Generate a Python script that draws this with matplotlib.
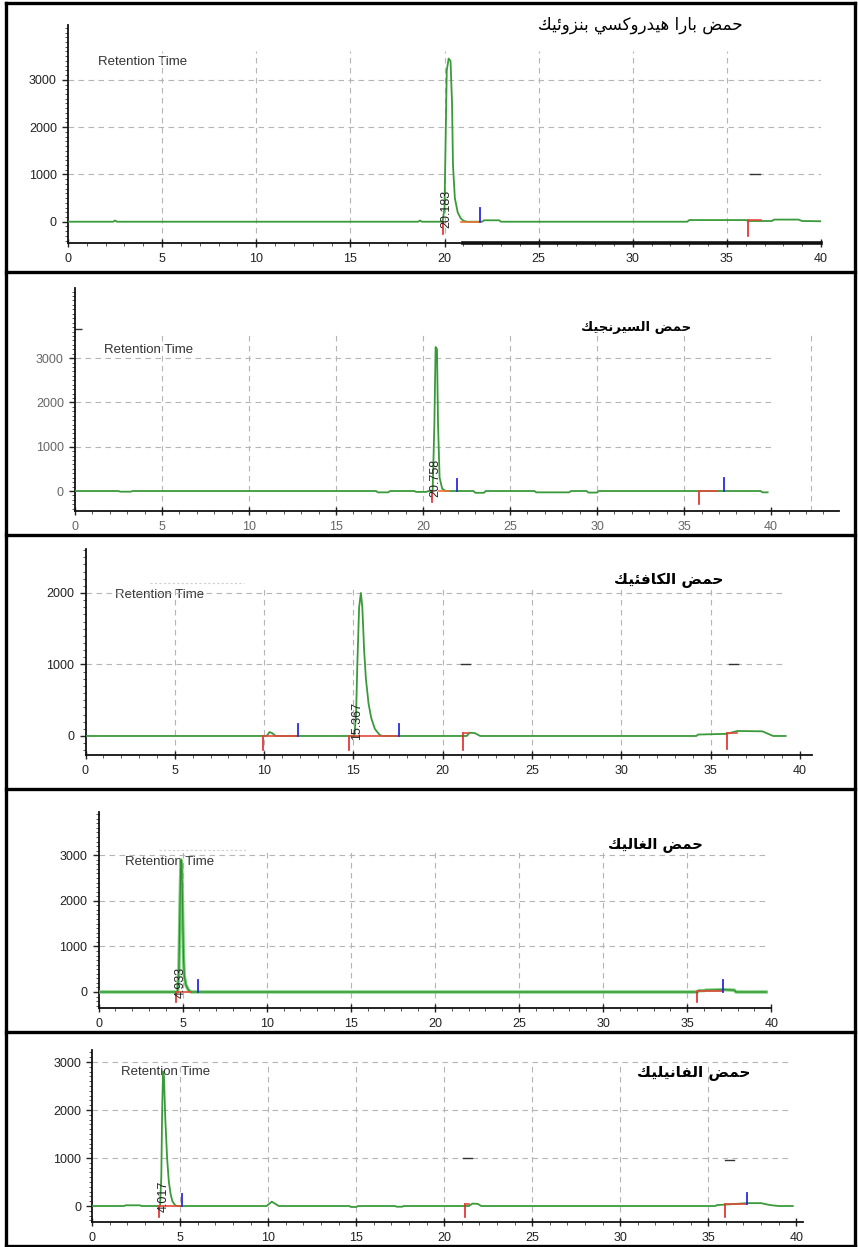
import numpy as np
import matplotlib
matplotlib.use('Agg')
import matplotlib.pyplot as plt
from matplotlib.ticker import MultipleLocator

# ── Titles (Arabic) and labels ───────────────────────────────────
TITLES = ['حمض بارا هيدروكسي بنزوئيك', 'حمض السيرنجيك', 'حمض الكافئيك',
          'حمض الغاليك', 'حمض الفانيليك']
PEAK_LABELS = ['20.183', '20.758', '15.367', '4.933', '4.017']
PEAK_LABEL_X = [20.12, 20.72, 15.22, 4.90, 4.07]
X_TICKS = [0, 5, 10, 15, 20, 25, 30, 35, 40]

# ── Traces (time min, signal) ────────────────────────────────────
t1 = [0, 2.4, 2.5, 2.6, 18.6, 18.7, 18.8, 19.9, 20.0, 20.05, 20.12, 20.22, 20.32,
      20.4, 20.45, 20.55, 20.7, 20.85, 21.0, 21.2, 22.0, 22.1, 22.9, 23.0, 32.9,
      33.0, 36.0, 36.2, 37.4, 37.5, 38.8, 39.0, 40.0]
s1 = [0, 0, 25, 0, 0, 25, 0, 0, 300, 1500, 3200, 3450, 3400,
      2500, 1200, 500, 200, 80, 20, 0, 0, 30, 30, 0, 0,
      35, 35, 15, 15, 45, 45, 15, 10]

t2 = [0, 2.5, 2.6, 3.2, 3.3, 17.3, 17.4, 18.0, 18.1, 19.5, 19.6, 20.2, 20.3, 20.55,
      20.65, 20.72, 20.8, 20.86, 20.95, 21.1, 21.3, 22.9, 23.0, 23.5, 23.6, 26.4,
      26.5, 28.4, 28.5, 29.4, 29.5, 30.0, 30.1, 39.4, 39.5, 39.8]
s2 = [0, 0, -15, -15, 0, 0, -30, -30, 0, 0, -20, -20, 0, 0,
      1500, 3250, 3200, 1500, 300, 50, 0, 0, -40, -40, 0, 0,
      -30, -30, 0, 0, -35, -35, 0, 0, -30, -30]

t3 = [0, 10.15, 10.3, 10.45, 10.65, 15.05, 15.15, 15.22, 15.32, 15.42, 15.5, 15.6,
      15.7, 15.85, 16.0, 16.2, 16.45, 16.6, 21.35, 21.5, 21.8, 22.1, 34.2, 34.3,
      35.9, 36.5, 37.9, 38.5, 39.2]
s3 = [0, 0, 55, 40, 0, 0, 300, 1000, 1800, 2000, 1800, 1200,
      800, 450, 250, 100, 20, 0, 0, 45, 40, 0, 0, 20,
      30, 70, 65, 0, 0]

t4 = [0, 4.7, 4.78, 4.85, 4.9, 4.95, 5.0, 5.05, 5.1, 5.2, 5.35, 5.5, 35.6, 35.7,
      36.0, 36.1, 37.2, 37.8, 37.9, 39.7]
s4 = [0, 0, 500, 2000, 2900, 2800, 1800, 800, 350, 150, 40, 0, 0, 30,
      30, 40, 50, 40, 0, 0]

t5 = [0, 1.8, 1.9, 2.7, 2.8, 3.85, 3.92, 3.97, 4.02, 4.07, 4.15, 4.25, 4.35, 4.45,
      4.55, 4.7, 4.8, 9.9, 10.2, 10.6, 14.6, 14.7, 15.0, 15.1, 17.2, 17.3, 17.6,
      17.7, 21.4, 21.6, 21.9, 22.1, 35.4, 35.5, 36.0, 37.2, 38.0, 38.5, 39.0, 39.8]
s5 = [0, 0, 15, 15, 0, 0, 600, 2000, 2800, 2700, 1800, 1000, 500, 250,
      100, 20, 0, 0, 90, 0, 0, -20, -20, 0, 0, -15, -15,
      0, 0, 50, 45, 0, 0, 20, 30, 60, 60, 20, 0, 0]

# integration marks: (time, y_from, y_to)
red_ticks = [[(19.9, 0, -250), (36.1, 40, -300)],
             [(20.5, 0, -250), (35.85, 0, -300)],
             [(9.92, 0, -200), (14.75, 0, -200), (21.15, 40, -200), (35.9, 40, -180)],
             [(4.59, 0, -210), (35.57, 0, -220)],
             [(3.8, 0, -230), (21.2, 40, -230), (35.95, 40, -230)]]
blue_ticks = [[(21.9, 0, 300)],
              [(21.95, 0, 270), (37.3, 0, 300)],
              [(11.9, 0, 170), (17.55, 0, 170)],
              [(5.93, 0, 260), (37.1, 0, 260)],
              [(5.08, 0, 240), (37.2, 50, 275)]]
# integration baselines: (t_start, t_end, y)
red_base = [[(20.9, 21.9, 0), (36.1, 36.8, 30)],
            [(20.9, 21.5, 0), (35.85, 36.9, 0)],
            [(9.92, 11.9, -5), (14.75, 17.55, -5), (21.15, 21.4, 40), (35.9, 36.5, 40)],
            [(4.59, 5.5, 0), (35.57, 37.1, 20)],
            [(3.8, 5.0, 0), (21.2, 21.4, 40), (35.95, 37.2, 40)]]
# little black dashes near the 1000 line
dash_marks = [[(36.5, 1000)], [], [(21.3, 1000), (36.3, 1000)], [],
              [(21.3, 1000), (36.2, 960)]]

TRACES = [(t1, s1), (t2, s2), (t3, s3), (t4, s4), (t5, s5)]
Y_TICKS = [[0, 1000, 2000, 3000], [0, 1000, 2000, 3000], [0, 1000, 2000],
           [0, 1000, 2000, 3000], [0, 1000, 2000, 3000]]

# ── Layout in pixels: box (left, right, top, bottom), xlim, ylim ─
W, H = 858, 1247
PANELS = [
    dict(box=(68, 821, 25, 243), xlim=(0, 40), ylim=(-450, 4160), vtop=3600, hend=40,
         ret=(98, 62), title=(640, 25), tsize=12, bold=False, tcol='#222222'),
    dict(box=(75, 839, 288, 511), xlim=(0, 43.9), ylim=(-451, 4582), vtop=3610, hend=40,
         ret=(104, 350), title=(636, 327), tsize=9.5, bold=True, tcol='#666666'),
    dict(box=(85.5, 812.4, 549, 755), xlim=(0, 40.7), ylim=(-266, 2615), vtop=2050, hend=39.2,
         ret=(115, 595), title=(669, 580), tsize=11, bold=True, tcol='#222222'),
    dict(box=(98.5, 771.3, 812, 1008), xlim=(0, 40), ylim=(-351, 3947), vtop=3070, hend=39.6,
         ret=(125, 862), title=(655, 845), tsize=10.5, bold=True, tcol='#222222'),
    dict(box=(92.3, 803.3, 1050, 1222), xlim=(0, 40.4), ylim=(-333, 3250), vtop=3000, hend=39.7,
         ret=(121, 1072), title=(694, 1072), tsize=11, bold=True, tcol='#222222'),
]
ROW_LINES = [272, 535, 789, 1032]

# ── Minimal Arabic shaping (matplotlib has no complex text layout) ─
FORMS = {  # isolated, final, initial, medial
    'ا': (0xFE8D, 0xFE8E, None, None), 'ب': (0xFE8F, 0xFE90, 0xFE91, 0xFE92),
    'ج': (0xFE9D, 0xFE9E, 0xFE9F, 0xFEA0), 'ح': (0xFEA1, 0xFEA2, 0xFEA3, 0xFEA4),
    'د': (0xFEA9, 0xFEAA, None, None), 'ر': (0xFEAD, 0xFEAE, None, None),
    'ز': (0xFEAF, 0xFEB0, None, None), 'س': (0xFEB1, 0xFEB2, 0xFEB3, 0xFEB4),
    'ض': (0xFEBD, 0xFEBE, 0xFEBF, 0xFEC0), 'غ': (0xFECD, 0xFECE, 0xFECF, 0xFED0),
    'ف': (0xFED1, 0xFED2, 0xFED3, 0xFED4), 'ك': (0xFED9, 0xFEDA, 0xFEDB, 0xFEDC),
    'ل': (0xFEDD, 0xFEDE, 0xFEDF, 0xFEE0), 'م': (0xFEE1, 0xFEE2, 0xFEE3, 0xFEE4),
    'ن': (0xFEE5, 0xFEE6, 0xFEE7, 0xFEE8), 'ه': (0xFEE9, 0xFEEA, 0xFEEB, 0xFEEC),
    'و': (0xFEED, 0xFEEE, None, None), 'ي': (0xFEF1, 0xFEF2, 0xFEF3, 0xFEF4),
    'ئ': (0xFE89, 0xFE8A, 0xFE8B, 0xFE8C),
}


def shape_arabic(text):
    out = []
    for i, ch in enumerate(text):
        if ch not in FORMS:
            out.append(ch)
            continue
        prev = text[i - 1] if i > 0 else ' '
        nxt = text[i + 1] if i + 1 < len(text) else ' '
        join_prev = prev in FORMS and FORMS[prev][2] is not None
        join_next = nxt in FORMS and FORMS[ch][2] is not None
        iso, fin, ini, med = FORMS[ch]
        if join_prev and join_next:
            code = med
        elif join_prev:
            code = fin
        elif join_next:
            code = ini
        else:
            code = iso
        out.append(chr(code))
    return ''.join(reversed(out))


fig = plt.figure(figsize=(W / 100, H / 100), dpi=100)

# table frame
frame = fig.add_axes([0, 0, 1, 1])
frame.set_xlim(0, W)
frame.set_ylim(H, 0)
frame.axis('off')
for x in (6, 855):
    frame.plot([x, x], [3, H - 1], color='black', lw=2.4)
for y in [3] + ROW_LINES + [H - 1.5]:
    frame.plot([6, 855], [y, y], color='black', lw=2.4)

GRID_KW = dict(color='#b5b5b5', lw=0.8, linestyles=(0, (5, 4)), zorder=1)

for k, p in enumerate(PANELS):
    l, r, t, b = p['box']
    ax = fig.add_axes([l / W, 1 - b / H, (r - l) / W, (b - t) / H])
    ax.set_facecolor('none')
    ax.set_xlim(*p['xlim'])
    ax.set_ylim(*p['ylim'])
    for side in ('top', 'right'):
        ax.spines[side].set_visible(False)
    for side in ('left', 'bottom'):
        ax.spines[side].set_linewidth(1.3)
        ax.spines[side].set_color('#111111')

    ax.set_xticks(X_TICKS)
    ax.set_yticks(Y_TICKS[k])
    ax.xaxis.set_minor_locator(MultipleLocator(1))
    ax.yaxis.set_minor_locator(MultipleLocator(100))
    ax.tick_params(axis='both', which='major', length=4, width=1, pad=4,
                   labelsize=9, labelcolor=p['tcol'], colors='#222222')
    ax.tick_params(axis='x', which='major', direction='inout', length=6)
    ax.tick_params(axis='both', which='minor', length=2, width=0.7, colors='#555555')
    for lab in ax.get_xticklabels() + ax.get_yticklabels():
        lab.set_family('Liberation Sans')
        lab.set_color(p['tcol'])

    # dashed grid that stops short of the axis top, like the instrument print-out
    ax.vlines(X_TICKS[1:-1], p['ylim'][0], p['vtop'], **GRID_KW)
    ax.hlines(Y_TICKS[k][1:], 0, p['hend'], **GRID_KW)
    if k == 1:
        ax.vlines([42.3], p['ylim'][0], p['vtop'], **GRID_KW)
        ax.hlines([3650], -0.4, 0.4, color='#333333', lw=1)

    tt, ss = TRACES[k]
    if k == 3:
        ax.plot(tt, ss, color='#74cc74', lw=2.4, zorder=3, solid_joinstyle='round')
        ax.plot(tt, ss, color='#2f8f2f', lw=0.9, zorder=4)
    else:
        ax.plot(tt, ss, color='#3a9a3a', lw=1.3, zorder=4)

    for (x, y0, y1) in red_ticks[k]:
        ax.plot([x, x], [y0, y1], color='#e02828', lw=1.2, zorder=5)
    for (x0, x1, y) in red_base[k]:
        col = '#f07030' if (k in (0, 1) and x0 < 25) else '#e24a3a'
        ax.plot([x0, x1], [y, y], color=col, lw=1.2, zorder=5)
    for (x, y0, y1) in blue_ticks[k]:
        ax.plot([x, x], [y0, y1], color='#2a2ae0', lw=1.3, zorder=5)
    for (x, y) in dash_marks[k]:
        ax.plot([x - 0.25, x + 0.25], [y, y], color='#333333', lw=1, zorder=5)

    if k == 0:
        ax.plot([21, 40], [p['ylim'][0], p['ylim'][0]], color='#111111', lw=2.6,
                clip_on=False, zorder=6)
    if k in (2, 3):
        yf = 2140 if k == 2 else 3110
        ax.plot([3.6, 8.9], [yf, yf], color='#d0d0d0', lw=0.8, ls=(0, (2, 2)), zorder=1)

    ax.text(PEAK_LABEL_X[k], -130 if k != 2 else -60, PEAK_LABELS[k], rotation=90,
            ha='center', va='bottom', fontsize=9, color='#222222',
            family='Liberation Sans', zorder=6)

    # "Retention Time" and Arabic compound name in pixel coords
    rx, ry = p['ret']
    frame.text(rx, ry, 'Retention Time', ha='left', va='center', fontsize=9.5,
               color='#333333', family='Liberation Sans', zorder=0)
    tx, ty = p['title']
    frame.text(tx, ty, shape_arabic(TITLES[k]), ha='center', va='center',
               fontsize=p['tsize'], fontweight='bold' if p['bold'] else 'normal',
               color='black', family='DejaVu Sans')

fig.savefig('out.png', dpi=100)
